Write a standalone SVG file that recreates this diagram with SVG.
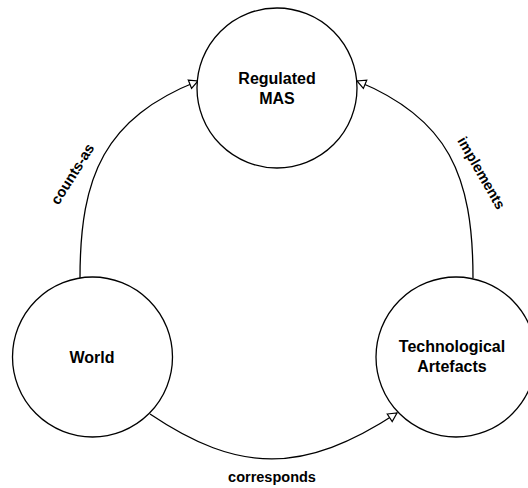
<svg xmlns="http://www.w3.org/2000/svg" width="528" height="488" viewBox="0 0 528 488">
  <style>
    .node circle { fill: #ffffff; stroke: #000000; stroke-width: 1.3; }
    .node text { font-family: "Liberation Sans", Arial, Helvetica, sans-serif; font-size: 16px; font-weight: bold; fill: #000000; text-anchor: middle; }
    .edge { fill: none; stroke: #000000; stroke-width: 1.3; marker-end: url(#open-block); }
    .label { font-family: "Liberation Sans", Arial, Helvetica, sans-serif; font-size: 14.5px; font-weight: bold; fill: #000000; text-anchor: middle; }
  </style>
  <defs>
    <marker id="open-block" viewBox="0 0 10 10" markerWidth="10" markerHeight="10" refX="10" refY="5" orient="auto" markerUnits="userSpaceOnUse" overflow="visible">
      <path d="M1.3,0.5 L10,5 L1.3,9.5 Z" fill="#ffffff" stroke="#000000" stroke-width="1.2" stroke-linejoin="miter"/>
    </marker>
  </defs>

  <rect width="528" height="488" fill="#ffffff"/>

  <!-- connectors -->
  <g id="connectors">
    <g id="edge-counts-as">
      <path class="edge" d="M80,278 C80,175 105,118 198,81"/>
      <text class="label" transform="translate(72.5,174) rotate(-58)" dy="5">counts-as</text>
    </g>
    <g id="edge-implements">
      <path class="edge" d="M473,278 C473,175 448,118 357,81"/>
      <text class="label" transform="translate(481.5,173) rotate(60)" dy="5">implements</text>
    </g>
    <g id="edge-corresponds">
      <path class="edge" d="M150,414 C239,474 304,474 397,413"/>
      <text class="label" x="272" y="482">corresponds</text>
    </g>
  </g>

  <!-- nodes -->
  <g id="node-regulated-mas" class="node">
    <circle cx="277" cy="88" r="80"/>
    <text x="277" y="84">Regulated</text>
    <text x="277" y="104">MAS</text>
  </g>
  <g id="node-world" class="node">
    <circle cx="92.5" cy="357" r="80"/>
    <text x="92" y="363">World</text>
  </g>
  <g id="node-technological-artefacts" class="node">
    <circle cx="456" cy="357" r="80"/>
    <text x="452" y="352">Technological</text>
    <text x="452" y="372">Artefacts</text>
  </g>
</svg>
